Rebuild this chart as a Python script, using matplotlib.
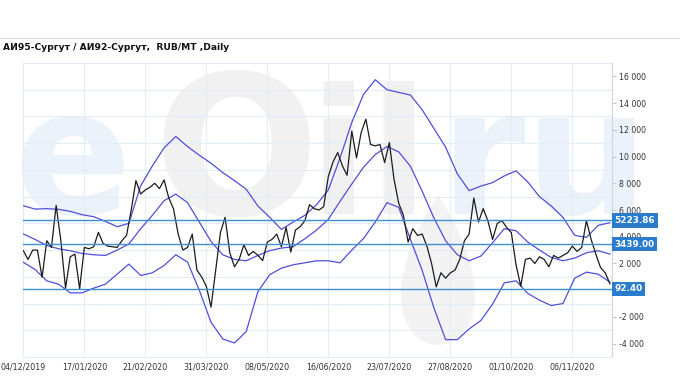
import numpy as np
import matplotlib.pyplot as plt
from matplotlib.lines import Line2D
from matplotlib.patches import Polygon

title = "АИ95-Сургут / АИ92-Сургут,  RUB/MT ,Daily"
date_labels = ["04/12/2019", "17/01/2020", "21/02/2020", "31/03/2020", "08/05/2020",
               "16/06/2020", "23/07/2020", "27/08/2020", "01/10/2020", "06/11/2020"]
days_per_label = 26

# spread, one value every 2nd trading day
spread_step = 2
spread = [2960, 2300, 3000, 3000, 970, 3700, 3200, 6350, 3700, 150,
          2500, 2700, 100, 3200, 3100, 3250, 4330, 3500, 3300, 3250,
          3200, 3700, 4100, 6000, 8200, 7200, 7500, 7700, 8000, 7600,
          8250, 6900, 6100, 4200, 3000, 3200, 4200, 1500, 1000, 300,
          -1270, 1500, 4300, 5450, 2800, 1750, 2300, 3400, 2600, 2900,
          2600, 2215, 3600, 3800, 4200, 3250, 4700, 2850, 4500, 4750,
          5200, 6400, 6100, 6000, 6250, 8500, 9600, 10300, 9300, 8600,
          11900, 9900, 11800, 12800, 10900, 10800, 10900, 9550, 11050, 8300,
          6500, 5600, 3600, 4600, 4100, 4200, 3300, 2000, 250, 1300,
          900, 1300, 1500, 2300, 3700, 4200, 6900, 5100, 6100, 5200,
          3800, 5000, 5200, 4700, 4300, 1900, 300, 2300, 2400, 2000,
          2500, 2300, 1750, 2600, 2400, 2600, 2800, 3300, 2900, 3200,
          5200, 3800, 2700, 1700, 1300, 480]

# bands, one value every 5th trading day
band_step = 5
upper_band = [6320, 6070, 6100, 6050, 5900, 5650, 5500, 5150, 4750, 5000,
              7800, 9300, 10650, 11500, 10750, 10100, 9500, 8800, 8200, 7550,
              6300, 5450, 4550, 5100, 5600, 6400, 7500, 9900, 12550, 14650,
              15750, 15000, 14800, 14600, 13500, 12100, 10700, 8700, 7450, 7790,
              8050, 8550, 8930, 8100, 7000, 6300, 5450, 4100, 3950, 4850, 5050]
middle_band = [4210, 3800, 3350, 3100, 2950, 2750, 2650, 2600, 3000, 3460,
               4600, 5600, 6700, 7190, 6550, 5100, 3650, 2650, 2300, 2200,
               2600, 2960, 3150, 3250, 3850, 4500, 5300, 6650, 7950, 9200,
               10150, 10750, 10350, 9270, 7400, 5400, 3700, 2650, 2200, 2550,
               3550, 4600, 4450, 3600, 3000, 2450, 2200, 2400, 2800, 2950, 2700]
lower_band = [2090, 1550, 700, 450, -200, -200, 150, 450, 1200, 1950,
              1100, 1300, 1850, 2650, 2100, 0, -2400, -3650, -3950, -3100,
              -100, 1150, 1650, 1900, 2050, 2200, 2200, 2050, 3000, 3870,
              5100, 6550, 6200, 3800, 1480, -1330, -3700, -3700, -2900, -2270,
              -1040, 550, 700, -240, -750, -1150, -1000, 900, 1350, 1200, 600]

levels = [5223.86, 3439.00, 92.40]
y_ticks = list(range(-4000, 16001, 2000))

grid_c = "#e3edf6"
band_c = "#4f4fdc"
level_c = "#3d8fd8"
label_bg = "#2a7ccc"

W, H = 680, 380
fig = plt.figure(figsize=(6.8, 3.8), dpi=100)

# eOil.ru watermark behind the chart
wm_blue = "#ebf2fa"
wm_gray = "#f1f1f1"
wm = [("e", 72, 125, wm_blue), ("O", 236, 140, wm_gray), ("i", 338, 125, wm_gray),
      ("l", 398, 125, wm_gray), ("r", 482, 125, wm_blue), ("u", 586, 125, wm_blue)]
for ch, px, fs, col in wm:
    fig.text(px / W, 1 - 214 / H, ch, fontsize=fs, color=col, fontweight="bold",
             ha="center", va="baseline", zorder=-5)

# oil drop under "il" (pixel coords, tip on top)
t = np.linspace(0, 2 * np.pi, 120)
drop_x = 438 + 48 * np.sin(t) * np.sin(t / 2)
drop_y = 270 - 75 * np.cos(t)
fig.add_artist(Polygon(np.column_stack([drop_x / W, 1 - drop_y / H]), closed=True,
                       fc="#f3f3f3", ec="none", zorder=-5, transform=fig.transFigure))

ax = fig.add_axes([22.6 / W, 23 / H, (612 - 22.6) / W, 294 / H])
ax.patch.set_alpha(0)

x_spread = np.arange(len(spread)) * spread_step
x_band = np.arange(len(upper_band)) * band_step

for v in np.arange(-5000, 17001, 2000):
    ax.axhline(v, color=grid_c, lw=0.8, zorder=0)

for band in (upper_band, middle_band, lower_band):
    ax.plot(x_band, band, color=band_c, lw=0.9, zorder=2)
ax.plot(x_spread, spread, color="#1c1c1c", lw=0.9, zorder=3)

for v in levels:
    ax.axhline(v, color=level_c, lw=1.0, zorder=4)
    ax.text(1.004, v, f"{v:.2f}", transform=ax.get_yaxis_transform(), ha="left", va="center",
            fontsize=6.4, fontweight="bold", color="white", clip_on=False, zorder=6,
            bbox=dict(boxstyle="square,pad=0.3", fc=label_bg, ec="none"))

ax.set_xlim(-0.3, 250.9)
ax.set_ylim(-5000, 17000)

ax.set_xticks(np.arange(len(date_labels)) * days_per_label)
ax.set_xticklabels(date_labels)
ax.grid(axis="x", color=grid_c, lw=0.8, zorder=0)
ax.tick_params(axis="x", length=0, labelsize=5.7, labelcolor="#333333", pad=4)

ax.yaxis.tick_right()
ax.set_yticks(y_ticks)
ax.set_yticklabels([f"{v:,}".replace(",", " ") for v in y_ticks])
ax.tick_params(axis="y", length=3, color="#b8cadb", labelsize=5.6, labelcolor="#333333", pad=2)

for side in ("top", "left"):
    ax.spines[side].set_visible(False)
ax.spines["bottom"].set_color(grid_c)
ax.spines["right"].set_color("#c8d8e8")

fig.text(3 / W, 1 - 47 / H, title, fontsize=6.6, fontweight="bold", color="#111111",
         va="center", ha="left")
fig.add_artist(Line2D([0, 1], [1 - 37.5 / H] * 2, color="#dadada", lw=0.8))

fig.savefig("out.png", dpi=100)
